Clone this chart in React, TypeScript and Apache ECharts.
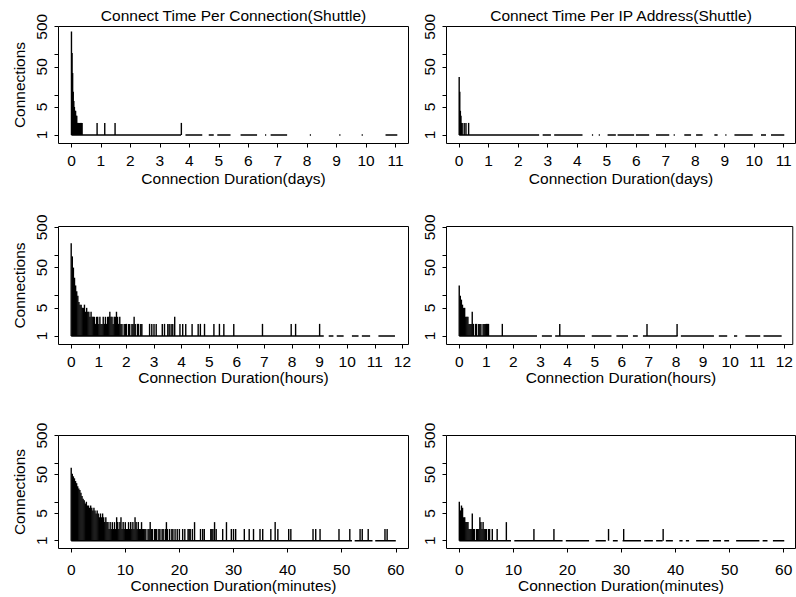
import React, { useEffect, useRef } from "react";
import * as echarts from "echarts";

const FONT = "'Liberation Sans', Arial, Helvetica, sans-serif";
const FS = 15.5;

// ---------- texts ----------
const titles = ["Connect Time Per Connection(Shuttle)", "Connect Time Per IP Address(Shuttle)"];
const xNames = ["Connection Duration(days)", "Connection Duration(hours)", "Connection Duration(minutes)"];
const yName = "Connections";

// ---------- tick values ----------
const xTicksDays = [0, 1, 2, 3, 4, 5, 6, 7, 8, 9, 10, 11];
const xTicksHours = [0, 1, 2, 3, 4, 5, 6, 7, 8, 9, 10, 11, 12];
const xTicksMinutes = [0, 10, 20, 30, 40, 50, 60];
const yTickValues = [1, 5, 10, 50, 100, 500];
const yLabelValues = [1, 5, 50, 500];

// ---------- data: per connection, days ----------
const connDaysStep = 0.02;
const connDaysCounts = [380, 110, 35, 12, 7, 5, 4, 4, 3, 3, 2, 2, 2, 2, 2, 2, 2, 2, 2];
const connDaysSpikes = [[0.87, 2], [1.13, 2], [1.48, 2], [3.73, 2]];
const connDaysOnes = [[0, 3.72], [3.87, 4.44], [4.66, 4.83], [4.95, 5.4], [5.74, 6.3], [6.57, 6.61], [6.76, 7.32], [8.09, 8.13], [9.09, 9.13], [9.85, 9.89], [10.66, 11.06]];

// ---------- data: per IP, days ----------
const ipDaysStep = 0.02;
const ipDaysCounts = [28, 12, 4, 3, 2, 2];
const ipDaysSpikes = [[0.17, 2], [0.23, 2], [0.32, 2]];
const ipDaysOnes = [[0, 2.71], [2.83, 3.11], [3.22, 4.18], [4.5, 4.54], [4.73, 4.77], [5.03, 5.31], [5.37, 5.93], [5.99, 6.44], [6.67, 7.12], [7.27, 7.31], [7.63, 7.86], [8.03, 8.25], [8.65, 8.76], [9.02, 9.06], [9.33, 9.95], [10.23, 10.4], [10.57, 11.02]];

// ---------- data: per connection, hours ----------
const connHoursStep = 0.04;
const connHoursCounts = [
  200, 95, 50, 28, 18, 13, 10, 7, 6, 6,
  5, 5, 6, 4, 5, 4, 4, 3, 4, 3,
  3, 3, 2, 3, 3, 2, 3, 2, 2, 3,
  2, 3, 2, 3, 3, 4, 3, 3, 2, 3,
  3, 4, 3, 2, 3, 2, 2, 1, 2, 2,
  2, 1, 2, 2, 1, 2, 2, 3, 2, 1,
  2, 2, 1, 2, 2, 1,
];
const connHoursSpikes = [[2.84, 2], [2.92, 2], [3.0, 2], [3.08, 2], [3.3, 2], [3.38, 2], [3.5, 2], [3.55, 2], [3.62, 2], [3.68, 2], [3.75, 3], [3.94, 2], [4.04, 2], [4.15, 2], [4.38, 2], [4.6, 2], [4.68, 2], [4.83, 2], [5.17, 2], [5.37, 2], [5.53, 2], [5.89, 2], [6.93, 2], [7.97, 2], [8.13, 2], [9.0, 2]];
const connHoursOnes = [[0, 9.15], [9.33, 9.5], [9.62, 9.87], [10.17, 10.41], [10.53, 10.83], [11.13, 11.73]];

// ---------- data: per IP, hours ----------
const ipHoursStep = 0.04;
const ipHoursCounts = [18, 10, 8, 6, 5, 5, 3, 3, 3, 2, 2, 2, 4, 2, 1, 2, 2, 1, 2, 2, 2, 1, 2, 2, 2, 2, 2, 2];
const ipHoursSpikes = [[1.59, 2], [3.71, 2], [6.93, 2], [8.04, 2]];
const ipHoursOnes = [[0, 2.87], [3.05, 3.42], [3.54, 4.64], [4.89, 5.62], [5.8, 6.23], [6.41, 6.59], [6.78, 8.06], [8.18, 9.4], [9.58, 9.89], [10.14, 10.26], [10.56, 11.11], [11.23, 11.9]];

// ---------- data: per connection, minutes ----------
const connMinStep = 0.2;
const connMinCounts = [
  75, 52, 45, 40, 34, 30, 25, 22, 20, 17,
  14, 12, 11, 9, 10, 8, 8, 7, 8, 7,
  6, 7, 6, 5, 6, 5, 4, 5, 4, 5,
  4, 3, 4, 3, 3, 2, 3, 2, 3, 2,
  3, 2, 4, 3, 2, 3, 4, 2, 3, 2,
  3, 2, 2, 3, 2, 3, 2, 3, 2, 4,
  3, 2, 3, 2, 2, 3, 2, 2, 2, 2,
  1, 2, 2, 3, 2, 2, 1, 2, 2, 2,
  1, 2, 2, 1, 2, 2, 1, 2, 3, 2,
  1, 2, 1, 2, 2, 1, 2, 1, 2, 1,
  2, 1, 1, 2, 1, 2, 1, 1, 2, 2,
  2,
];
const connMinSpikes = [[22.4, 2], [22.8, 3], [23.9, 2], [24.3, 2], [24.6, 2], [25.8, 2], [26.0, 2], [26.2, 2], [26.5, 3], [26.8, 2], [28.0, 2], [28.7, 3], [29.6, 2], [30.0, 2], [30.4, 2], [32.0, 2], [32.9, 2], [33.7, 2], [34.9, 2], [35.4, 2], [36.9, 2], [37.7, 3], [38.2, 2], [40.2, 2], [40.6, 2], [44.7, 2], [45.2, 2], [46.0, 2], [49.5, 2], [51.5, 2], [53.4, 2], [53.8, 2], [54.9, 2], [58.0, 2], [58.4, 2]];
const connMinOnes = [[0, 51.9], [52.4, 55.7], [56.2, 60.0]];

// ---------- data: per IP, minutes ----------
const ipMinStep = 0.2;
const ipMinCounts = [10, 6, 8, 7, 4, 4, 3, 3, 3, 2, 2, 2, 5, 2, 2, 1, 2, 2, 2, 4, 3, 2, 3, 2, 2, 2, 1, 2, 2];
const ipMinSpikes = [[6.1, 2], [7.0, 2], [8.7, 3], [13.8, 2], [17.5, 2], [27.6, 2], [30.4, 2], [37.7, 2]];
const ipMinOnes = [[0, 9.56], [10.17, 19.1], [19.7, 24.0], [25.2, 27.1], [28.4, 29.3], [30.2, 33.6], [34.2, 35.8], [36.4, 37.6], [38.2, 39.5], [40.7, 41.3], [41.9, 42.5], [43.8, 46.2], [46.9, 48.4], [49.0, 49.9], [51.2, 55.5], [56.1, 57.0], [58.0, 60.1]];

// ---------- layout ----------
const colLeft = [58.5, 446.5];
const colWidth = [350, 349];
const rowTop = [26.5, 226.5, 435.5];
const rowHeight = [117, 118, 113];
const rowYMin = [0.613, 0.615, 0.631];
const rowYMax = [506, 524, 502];
const rowTickMargin = [9.25, 8.5, 12.9];
const rowNameY = [178.9, 377.9, 585.7];
const titleY = 15.3;
const yNameX = 19;
const yLabelMargin = 9;

type Panel = {
  row: number; col: number; xMin: number; xMax: number; ticks: number[];
  step: number; counts: number[]; spikes: number[][]; ones: number[][];
};

const panels: Panel[] = [
  { row: 0, col: 0, xMin: -0.44, xMax: 11.44, ticks: xTicksDays, step: connDaysStep, counts: connDaysCounts, spikes: connDaysSpikes, ones: connDaysOnes },
  { row: 0, col: 1, xMin: -0.43, xMax: 11.4, ticks: xTicksDays, step: ipDaysStep, counts: ipDaysCounts, spikes: ipDaysSpikes, ones: ipDaysOnes },
  { row: 1, col: 0, xMin: -0.46, xMax: 12.22, ticks: xTicksHours, step: connHoursStep, counts: connHoursCounts, spikes: connHoursSpikes, ones: connHoursOnes },
  { row: 1, col: 1, xMin: -0.47, xMax: 12.31, ticks: xTicksHours, step: ipHoursStep, counts: ipHoursCounts, spikes: ipHoursSpikes, ones: ipHoursOnes },
  { row: 2, col: 0, xMin: -2.35, xMax: 62.35, ticks: xTicksMinutes, step: connMinStep, counts: connMinCounts, spikes: connMinSpikes, ones: connMinOnes },
  { row: 2, col: 1, xMin: -2.37, xMax: 62.18, ticks: xTicksMinutes, step: ipMinStep, counts: ipMinCounts, spikes: ipMinSpikes, ones: ipMinOnes },
];

function buildOption(): any {
  const grid: any[] = [];
  const xAxis: any[] = [];
  const yAxis: any[] = [];
  const series: any[] = [];
  const textBase = { fontSize: FS, fontFamily: FONT, color: "#000" };

  panels.forEach((p, i) => {
    grid.push({
      left: colLeft[p.col], top: rowTop[p.row], width: colWidth[p.col], height: rowHeight[p.row],
      show: true, borderColor: "#000", borderWidth: 1, backgroundColor: "transparent",
    });
    xAxis.push({
      type: "value", gridIndex: i, min: p.xMin, max: p.xMax,
      axisLine: { show: false, onZero: false },
      splitLine: { show: false },
      axisTick: { show: true, length: 4, customValues: p.ticks, lineStyle: { color: "#000", width: 1 } },
      axisLabel: { ...textBase, customValues: p.ticks, margin: rowTickMargin[p.row], hideOverlap: false },
    });
    // data axis (log)
    yAxis.push({
      type: "log", logBase: 10, gridIndex: i, position: "left",
      min: rowYMin[p.row], max: rowYMax[p.row], show: false,
      axisLine: { show: false, onZero: false }, splitLine: { show: false },
    });
    // tick axis (same scale expressed in log10 units)
    const lo = Math.log10(rowYMin[p.row]);
    const hi = Math.log10(rowYMax[p.row]);
    yAxis.push({
      type: "value", gridIndex: i, position: "left", min: lo, max: hi,
      axisLine: { show: false, onZero: false }, splitLine: { show: false },
      axisTick: { show: true, length: 4, customValues: yTickValues.map((v) => Math.log10(v)), lineStyle: { color: "#000", width: 1 } },
      axisLabel: {
        ...textBase, rotate: 90, margin: yLabelMargin, hideOverlap: false,
        customValues: yLabelValues.map((v) => Math.log10(v)),
        formatter: (v: number) => String(Math.round(Math.pow(10, v))),
      },
    });

    const bars: any[] = p.counts.map((c, k) => [+(k * p.step).toFixed(4), c]).concat(p.spikes);
    series.push({
      type: "bar", xAxisIndex: i, yAxisIndex: 2 * i, data: bars, barWidth: 1.4,
      itemStyle: { color: "#000" }, silent: true, large: false,
    });
    const onesData: any[] = [];
    p.ones.forEach(([s, e]) => {
      onesData.push([s, 1], [e, 1], [e, "-"]);
    });
    series.push({
      type: "line", xAxisIndex: i, yAxisIndex: 2 * i, data: onesData, symbol: "none",
      lineStyle: { color: "#000", width: 1.4 }, silent: true, connectNulls: false,
    });
  });

  const graphic: any[] = [];
  const font = `${FS}px ${FONT}`;
  titles.forEach((t, c) => {
    graphic.push({
      type: "text", x: colLeft[c] + colWidth[c] / 2, y: titleY, silent: true,
      style: { text: t, font, fill: "#000", textAlign: "center", textVerticalAlign: "middle", align: "center", verticalAlign: "middle" },
    });
  });
  for (let r = 0; r < 3; r++) {
    for (let c = 0; c < 2; c++) {
      graphic.push({
        type: "text", x: colLeft[c] + colWidth[c] / 2, y: rowNameY[r], silent: true,
        style: { text: xNames[r], font, fill: "#000", textAlign: "center", textVerticalAlign: "middle", align: "center", verticalAlign: "middle" },
      });
    }
    graphic.push({
      type: "text", x: yNameX, y: rowTop[r] + rowHeight[r] / 2, rotation: Math.PI / 2, silent: true,
      style: { text: yName, font, fill: "#000", textAlign: "center", textVerticalAlign: "middle", align: "center", verticalAlign: "middle" },
    });
  }

  return {
    animation: false,
    backgroundColor: "#fff",
    textStyle: { fontFamily: FONT },
    grid, xAxis, yAxis, series, graphic,
  };
}

export default function App() {
  const ref = useRef<HTMLDivElement>(null);
  useEffect(() => {
    const el = ref.current;
    if (!el) return;
    const chart = echarts.init(el, undefined, { renderer: "svg", width: 796, height: 597 });
    chart.setOption(buildOption());
    return () => chart.dispose();
  }, []);
  return (
    <div
      ref={ref}
      style={{ position: "fixed", left: 0, top: 0, width: 796, height: 597, background: "#fff" }}
    />
  );
}
